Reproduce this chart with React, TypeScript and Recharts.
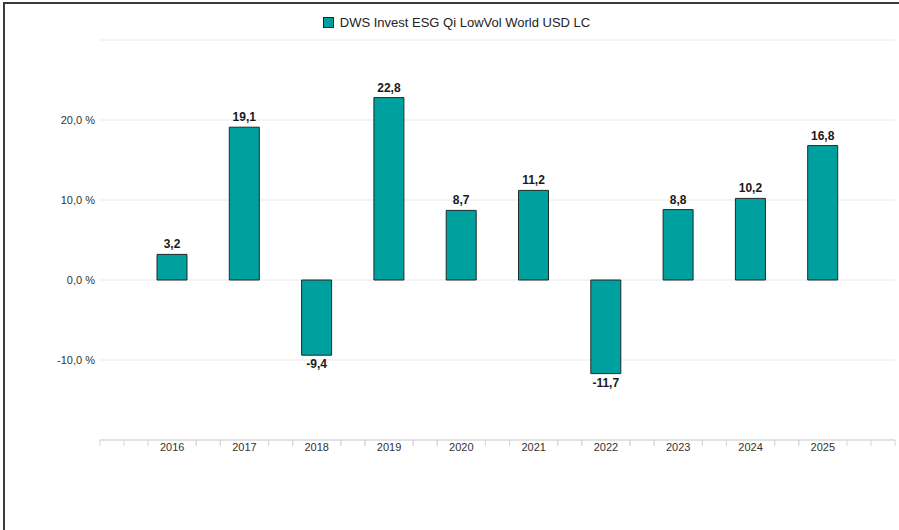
import React from "react";
import {
  BarChart,
  Bar,
  XAxis,
  YAxis,
  CartesianGrid,
  Legend,
  LabelList,
} from "recharts";

const years = ["2016", "2017", "2018", "2019", "2020", "2021", "2022", "2023", "2024", "2025"];
const returns = [3.2, 19.1, -9.4, 22.8, 8.7, 11.2, -11.7, 8.8, 10.2, 16.8];
const yTicks = [-20, -10, 0, 10, 20, 30];
const seriesName = "DWS Invest ESG Qi LowVol World USD LC";

const data = years.map((year, i) => ({ year, value: returns[i] }));

const FILL = "#00a09e";
const STROKE = "#1e2b2b";
const FONT = "'Liberation Sans', Arial, sans-serif";

const fmt = (v: number) => v.toFixed(1).replace(".", ",");

// year label plus the small minor ticks the original draws along the axis
const XTick = (props: any) => {
  const { x, y, payload, index, visibleTicksCount } = props;
  const step = 24.1;
  const offsets = [-2, -1, 1, 2];
  if (index === 0) offsets.push(-3);
  if (index === (visibleTicksCount ?? years.length) - 1) offsets.push(3);
  return (
    <g>
      {offsets.map((o) => (
        <line
          key={o}
          x1={x + o * step}
          x2={x + o * step}
          y1={y}
          y2={y + 6}
          stroke="#d6d6d6"
          strokeWidth={1}
        />
      ))}
      <text
        x={x}
        y={y + 11}
        textAnchor="middle"
        fontSize={11}
        fill="#333"
        fontFamily={FONT}
      >
        {payload.value}
      </text>
    </g>
  );
};

const BarValue = (props: any) => {
  const { x, y, width, height, value } = props;
  const top = Math.min(y, y + height);
  const bottom = Math.max(y, y + height);
  const neg = value < 0;
  return (
    <text
      x={x + width / 2}
      y={neg ? bottom + 13 : top - 6}
      textAnchor="middle"
      fontSize={12}
      fontWeight={600}
      fill="#1a1a1a"
      fontFamily={FONT}
    >
      {fmt(value)}
    </text>
  );
};

const LegendContent = () => (
  <div
    style={{
      display: "flex",
      justifyContent: "center",
      alignItems: "center",
      fontFamily: FONT,
      fontSize: 13,
      color: "#222",
      paddingLeft: 8,
      height: 24,
    }}
  >
    <span
      style={{
        display: "inline-block",
        width: 9,
        height: 9,
        background: FILL,
        border: `1px solid ${STROKE}`,
        marginRight: 6,
      }}
    />
    {seriesName}
  </div>
);

export default function App() {
  return (
    <div style={{ position: "fixed", left: 0, top: 0, width: 899, height: 530, background: "#fff" }}>
      <div
        style={{
          position: "absolute",
          left: 3,
          top: 2,
          right: 0,
          bottom: 0,
          borderLeft: "2px solid #3a3a3a",
          borderTop: "2px solid #3a3a3a",
        }}
      />
      <BarChart
        width={899}
        height={530}
        data={data}
        margin={{ top: 10, right: 4, left: 10, bottom: 65 }}
        barSize={30}
        style={{ position: "absolute", left: 0, top: 0 }}
      >
        <CartesianGrid vertical={false} stroke="#e8e8e8" />
        <Legend verticalAlign="top" height={30} content={<LegendContent />} />
        <XAxis
          dataKey="year"
          padding={{ left: 36, right: 36 }}
          axisLine={{ stroke: "#e2e2e2", strokeWidth: 2 }}
          tickLine={false}
          tickSize={0}
          tickMargin={0}
          height={25}
          interval={0}
          tick={<XTick />}
        />
        <YAxis
          width={90}
          domain={[-20, 30]}
          ticks={yTicks}
          interval={0}
          axisLine={false}
          tickLine={false}
          tickSize={0}
          tickMargin={5}
          tickFormatter={(v: number) => (v === -20 || v === 30 ? "" : `${fmt(v)} %`)}
          tick={{ fontSize: 11, fill: "#333", fontFamily: FONT }}
        />
        <Bar
          dataKey="value"
          name={seriesName}
          fill={FILL}
          stroke={STROKE}
          strokeWidth={1}
          isAnimationActive={false}
        >
          <LabelList dataKey="value" content={<BarValue />} />
        </Bar>
      </BarChart>
    </div>
  );
}
